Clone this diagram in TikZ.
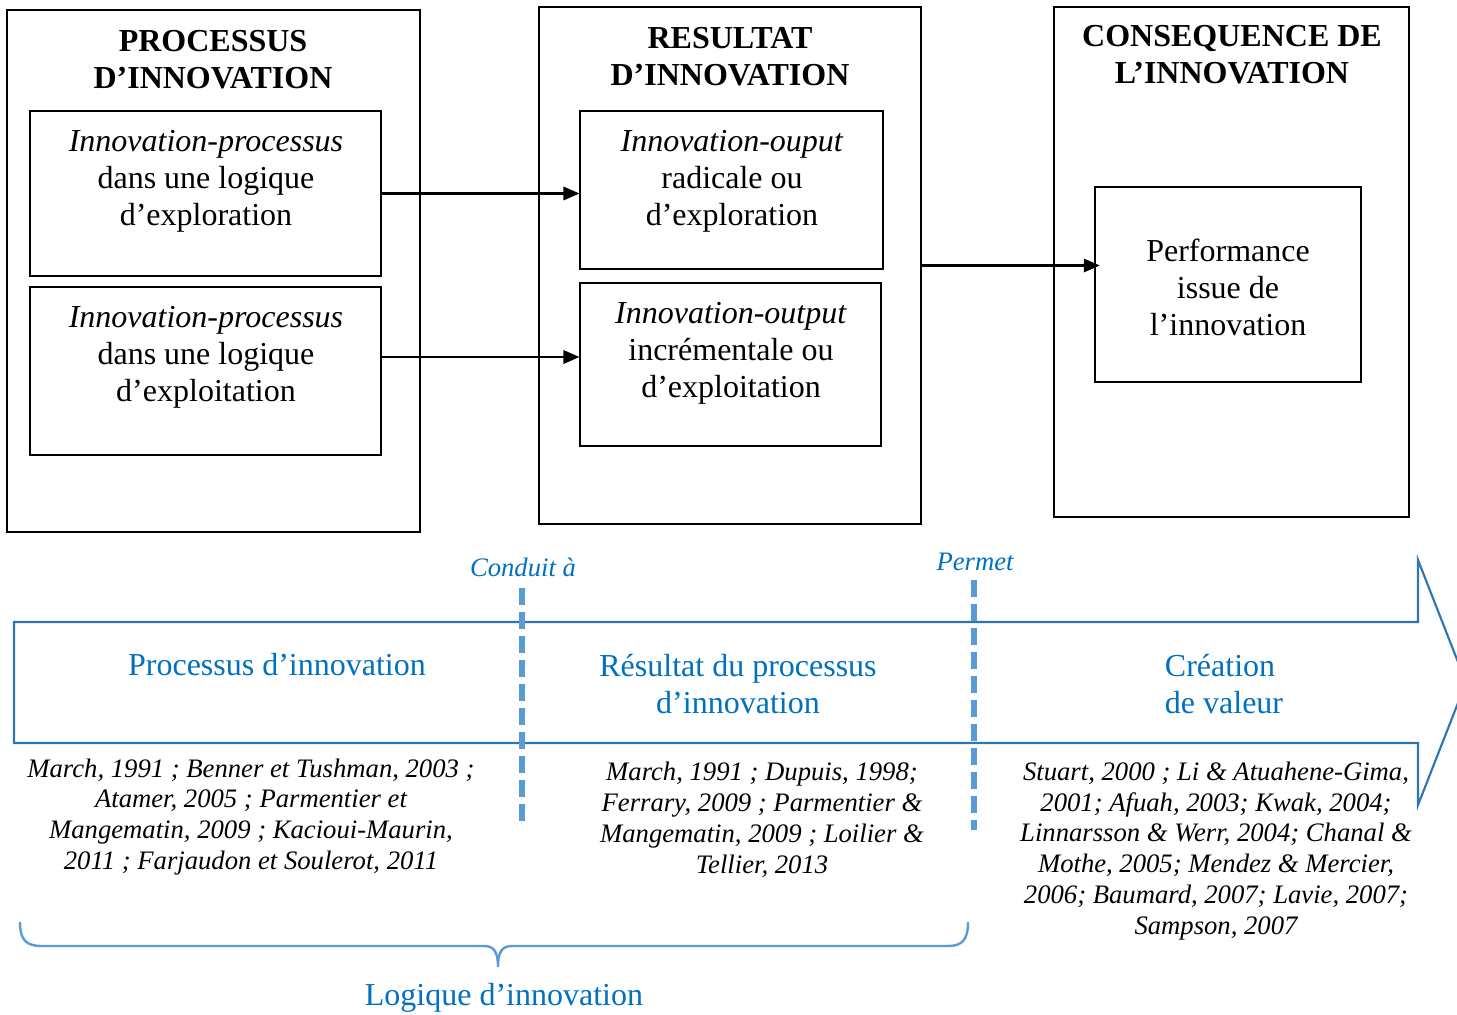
\documentclass[tikz,border=0pt]{standalone}
\usepackage{fontspec}
\setmainfont{Liberation Serif}
\usepackage{tikz}
\usetikzlibrary{
	arrows.meta,
	fit,
	positioning
}
\definecolor{dblue}{HTML}{2E75B6}
\definecolor{lblue}{HTML}{5B9BD5}
\definecolor{tblue}{HTML}{0070C0}
\tikzset{
	frame/.style={draw, line width=0.4pt, inner sep=0pt},
	title/.style={align=center, font=\fontsize{12}{13.9}\selectfont\bfseries},
	txt/.style={align=center, font=\fontsize{12}{13.9}\selectfont},
	flow/.style={->, line width=0.8pt},
	phase/.style={align=center, text=tblue, font=\fontsize{12}{14.2}\selectfont},
	link/.style={text=tblue, font=\fontsize{10}{12}\selectfont\itshape},
	ref/.style={align=center, font=\fontsize{10}{11.6}\selectfont\itshape},
	sep/.style={lblue, line width=1.9pt, dash pattern=on 6.5pt off 2.5pt},
	bigarrow/.style={dblue, line width=0.8pt, line join=miter},
	brace/.style={lblue, line width=0.9pt}
}

\begin{document}
\begin{tikzpicture}[x=0.375pt, y=-0.375pt, >={Triangle[length=6pt, width=5pt]}]
	\useasboundingbox (0,0) rectangle (1457,1015);

	% Upper part
		% Outer frames
			\node[frame, fit={(7,10) (420,532)}] (proc) {};
			\node[frame, fit={(539,7) (921,524)}] (res) {};
			\node[frame, fit={(1054,7) (1409,517)}] (cons) {};
			\node[title] (proct) at (213,60) {PROCESSUS\\D’INNOVATION};
			\node[title] (rest) at (730,57) {RESULTAT\\D’INNOVATION};
			\node[title] (const) at (1232,55) {CONSEQUENCE DE\\L’INNOVATION};
		% Inner boxes
			\node[frame, fit={(30,111) (381,276)}] (explo) {};
			\node[frame, fit={(30,287) (381,455)}] (exploi) {};
			\node[frame, fit={(580,111) (883,269)}] (radi) {};
			\node[frame, fit={(580,283) (881,446)}] (incr) {};
			\node[frame, fit={(1095,187) (1361,382)}] (perf) {};
			\node[txt] (explot) at (206,181) {\textit{Innovation-processus}\\dans une logique\\d’exploration};
			\node[txt] (exploit) at (206,357) {\textit{Innovation-processus}\\dans une logique\\d’exploitation};
			\node[txt] (radit) at (732,181) {\textit{Innovation-ouput}\\radicale ou\\d’exploration};
			\node[txt] (incrt) at (731,353) {\textit{Innovation-output}\\incrémentale ou\\d’exploitation};
			\node[txt] (perft) at (1228,287) {Performance\\issue de\\l’innovation};
		% Arrows
			\draw[flow] (explo.east) -- (explo.east -| radi.west);
			\draw[flow] ([yshift=5.25pt]exploi.east) coordinate (a2) -- (a2 -| incr.west);
			\draw[flow] (res.east) -- ([xshift=2pt]res.east -| perf.west);

	% Lower part
		% Big arrow
			\draw[bigarrow] (14,622) -- (1418,622) -- (1418,560) -- (1466,682.5)
				-- (1418,805) -- (1418,743) -- (14,743) -- cycle;
			\node[phase] (ph1) at (277,665) {Processus d’innovation};
			\node[phase] (ph2) at (738,684) {Résultat du processus\\d’innovation};
			\node[phase, align=left] (ph3) at (1224,684) {Création\\de valeur};
		% Separators
			\node[link] (cond) at (523,567) {Conduit à};
			\node[link] (perm) at (975,562) {Permet};
			\draw[sep] (522,588) -- (522,822);
			\draw[sep] (974,580) -- (974,830);
		% References
			\node[ref] (ref1) at (251,817) {March, 1991 ; Benner et Tushman, 2003 ;\\Atamer, 2005 ; Parmentier et\\Mangematin, 2009 ; Kacioui-Maurin,\\2011 ; Farjaudon et Soulerot, 2011};
			\node[ref] (ref2) at (762,820) {March, 1991 ; Dupuis, 1998;\\Ferrary, 2009 ; Parmentier \&\\Mangematin, 2009 ; Loilier \&\\Tellier, 2013};
			\node[ref] (ref3) at (1216,851) {Stuart, 2000 ; Li \& Atuahene-Gima,\\2001; Afuah, 2003; Kwak, 2004;\\Linnarsson \& Werr, 2004; Chanal \&\\Mothe, 2005; Mendez \& Mercier,\\2006; Baumard, 2007; Lavie, 2007;\\Sampson, 2007};
		% Brace
			\draw[brace] (20,922) .. controls (20,940) and (26,946) .. (42,946)
				-- (484,946) .. controls (494,946) and (498,952) .. (498,967)
				.. controls (498,952) and (502,946) .. (512,946)
				-- (948,946) .. controls (962,946) and (968,940) .. (968,922);
			\node[phase] (logi) at (504,998) {Logique d’innovation};
\end{tikzpicture}
\end{document}
